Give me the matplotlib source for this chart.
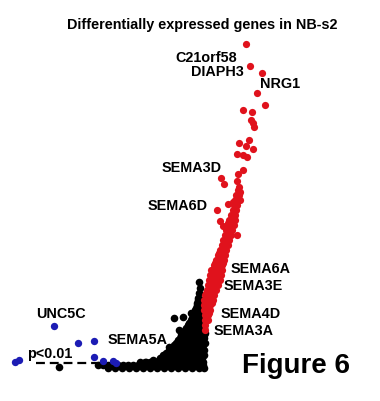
import matplotlib
matplotlib.use("Agg")
import matplotlib.pyplot as plt
import numpy as np

plt.rcParams['font.family'] = ['Liberation Sans', 'DejaVu Sans']

# gene rank (x) vs score (y)

# black = not significant
black_rank = [59, 146, 169, 174, 183, 191, 179, 199, 199]
black_score = [-2, 3, 18, 47, 48, 52, 35, 83, 72]

black_row_score = [0, -3, 3, 7, 12, 17, 22, 27, 32, 37, 42, 47, 52, 57, 62, 67, 77,
                   5, 10, 15, 20, 25, 30, 35, 40, 45, 50, 55, 60, 65]
black_row_ranks = [
    [98, 103, 108, 113, 118, 123, 128, 133, 138, 143, 148, 153, 158, 163,
     168, 173, 178, 183, 188, 193, 198, 203],
    [108, 115, 122, 129, 136, 143, 150, 157, 164, 171, 178, 185, 192, 199, 204],
    [140, 145, 150, 156, 162, 168, 174, 180, 186, 192, 198, 203],
    [160, 166, 172, 178, 184, 190, 196, 202],
    [166, 172, 178, 184, 190, 196, 202],
    [172, 178, 184, 190, 196, 202],
    [176, 182, 188, 194, 200, 205],
    [180, 186, 192, 198, 204],
    [183, 189, 195, 201, 205],
    [186, 192, 198, 204],
    [189, 195, 201],
    [192, 198, 203],
    [194, 200],
    [196, 201],
    [197, 202],
    [198],
    [200],
    [153, 159, 165, 171, 177, 183, 189, 195, 201],
    [163, 169, 175, 181, 187, 193, 199, 204],
    [169, 175, 181, 187, 193, 199, 204],
    [174, 179, 185, 191, 197, 203],
    [178, 184, 189, 195, 201],
    [181, 187, 193, 199, 204],
    [185, 190, 196, 202],
    [188, 193, 199, 204],
    [191, 196, 201],
    [193, 198, 202],
    [195, 200],
    [197, 201],
    [198, 201],
]

# blue = down, p<0.01
blue_rank = [15, 19, 54, 78, 94, 94, 103, 113, 116]
blue_score = [3, 5, 39, 22, 24, 8, 4, 4, 2]

# red = up, p<0.01
red_rank = [246, 250, 262, 257, 265, 243, 252, 251, 253, 254,
            249, 239, 246, 253, 237, 243, 247, 243, 238, 221, 224,
            237, 239, 240, 237, 240, 233, 228, 217, 235, 232, 220, 223, 228, 237]
red_score = [321, 299, 292, 272, 260, 255, 253, 245, 242, 238,
             225, 222, 219, 216, 211, 210, 208, 195, 191, 187, 181,
             184, 178, 173, 168, 165, 163, 161, 155, 157, 148, 144, 139, 142, 130]

red_row_score = [175, 170, 165, 160, 155, 150, 145, 140, 135, 130, 125, 120, 115,
                 110, 105, 100, 95, 90, 85, 80, 75, 70, 65, 60, 55, 50, 45, 40, 35,
                 122, 112, 102, 92, 82, 72, 62, 52]
red_row_ranks = [
    [238], [236, 239], [235, 238], [234, 237], [233, 236], [231, 235],
    [229, 232, 235], [228, 231, 234], [226, 229, 232], [225, 228, 231],
    [223, 226, 229], [222, 225, 228], [220, 223, 226], [218, 221, 225],
    [216, 220, 224], [214, 218, 222], [211, 215, 218, 222], [210, 214, 217, 221],
    [209, 212, 216, 220], [208, 211, 215, 218], [207, 210, 213, 216],
    [205, 208, 211, 214], [204, 207, 210, 213], [204, 207, 210], [204, 207, 210],
    [205, 208], [205, 208], [205], [205],
    [224, 227], [219, 224], [215, 219, 223], [212, 216, 219], [210, 213, 217],
    [206, 209, 212], [205, 209, 212], [206, 209],
]

p_cut = 2
labels = ["C21orf58", "DIAPH3", "NRG1", "SEMA3D", "SEMA6D", "SEMA6A", "SEMA3E",
          "SEMA4D", "SEMA3A", "SEMA5A", "UNC5C", "p<0.01"]
label_x = [237, 244, 260, 222, 208, 231, 224, 221, 214, 108, 36, 27]
label_y = [303, 289, 277, 193, 155, 92, 75, 47, 30, 21, 47, 7]
label_ha = ["right", "right", "left", "right", "right", "left", "left",
            "left", "left", "left", "left", "left"]


def flatten(rows_score, rows_rank):
    xs, ys = [], []
    for s, ranks in zip(rows_score, rows_rank):
        for r in ranks:
            xs.append(r)
            ys.append(s)
    return xs, ys


bx, by = flatten(black_row_score, black_row_ranks)
bx = black_rank + bx
by = black_score + by
rx, ry = flatten(red_row_score, red_row_ranks)
rx = red_rank + rx
ry = red_score + ry

fig = plt.figure(figsize=(3.8, 4.01), dpi=100)
ax = fig.add_axes([0, 0, 1, 1])
ax.set_xlim(0, 380)
ax.set_ylim(-36, 365)
ax.axis('off')

ax.hlines(p_cut, 36, 100, colors='black', linestyles=(0, (4, 2.2)), lw=1.6, zorder=1)
ax.scatter(bx, by, s=30, c='black', linewidths=0, zorder=2)
ax.scatter(rx, ry, s=27, c='#e0121c', linewidths=0, zorder=3)
ax.scatter(blue_rank, blue_score, s=28, c='#1c1cb4', linewidths=0, zorder=3)

for t, x, y, ha in zip(labels, label_x, label_y, label_ha):
    ax.text(x, y, t, ha=ha, va='baseline', fontsize=10.4, fontweight='bold')

fig.text(0.532, 1 - 25 / 401, "Differentially expressed genes in NB-s2",
         ha='center', va='center', fontsize=10.4, fontweight='bold')
fig.text(242 / 380, 1 - 373 / 401, "Figure 6", ha='left', va='baseline',
         fontsize=20, fontweight='bold')

fig.savefig("out.png", dpi=100)
